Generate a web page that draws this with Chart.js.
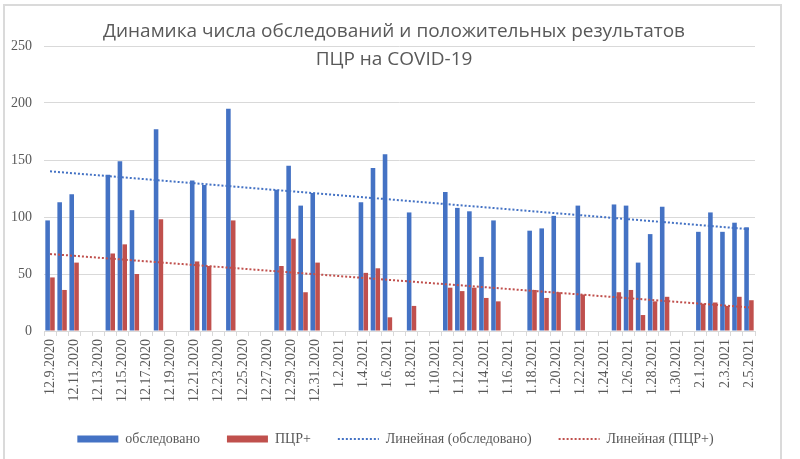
<!DOCTYPE html>
<html>
<head>
<meta charset="utf-8">
<script src="https://cdn.jsdelivr.net/npm/chart.js@4.4.1/dist/chart.umd.min.js"></script>
<style>
  html, body { margin: 0; padding: 0; background: #fff; }
  #wrap { position: relative; width: 800px; height: 459px; overflow: hidden; }
  #frame { position: absolute; left: 3px; top: 4px; width: 779px; height: 470px; border: 2px solid #dadada; box-sizing: border-box; pointer-events: none; }
  #title { position: absolute; left: 0; top: 16px; width: 788px; text-align: center; font-family: "Open Sans", sans-serif; font-size: 19px; line-height: 28px; color: #595959; pointer-events: none; }
</style>
</head>
<body>
<div id="wrap">
  <canvas id="chart" width="800" height="459"></canvas>
  <div id="frame"></div>
  <div id="title">Динамика числа обследований и положительных результатов<br>ПЦР на COVID-19</div>
</div>
<script>
// dates shown on the category axis (one per day, every other one labelled)
const dates = [
  "12.9.2020", "12.10.2020", "12.11.2020", "12.12.2020", "12.13.2020", "12.14.2020", "12.15.2020", "12.16.2020",
  "12.17.2020", "12.18.2020", "12.19.2020", "12.20.2020", "12.21.2020", "12.22.2020", "12.23.2020", "12.24.2020",
  "12.25.2020", "12.26.2020", "12.27.2020", "12.28.2020", "12.29.2020", "12.30.2020", "12.31.2020",
  "1.1.2021", "1.2.2021", "1.3.2021", "1.4.2021", "1.5.2021", "1.6.2021", "1.7.2021", "1.8.2021", "1.9.2021",
  "1.10.2021", "1.11.2021", "1.12.2021", "1.13.2021", "1.14.2021", "1.15.2021", "1.16.2021", "1.17.2021",
  "1.18.2021", "1.19.2021", "1.20.2021", "1.21.2021", "1.22.2021", "1.23.2021", "1.24.2021", "1.25.2021",
  "1.26.2021", "1.27.2021", "1.28.2021", "1.29.2021", "1.30.2021", "1.31.2021",
  "2.1.2021", "2.2.2021", "2.3.2021", "2.4.2021", "2.5.2021"
]

// обследовано
const tested = [
  97, 113, 120, null, null, 137, 149, 106,
  null, 177, null, null, 132, 128, null, 195,
  null, null, null, 124, 145, 110, 121,
  null, null, null, 113, 143, 155, null, 104, null,
  null, 122, 108, 105, 65, 97, null, null,
  88, 90, 101, null, 110, null, null, 111,
  110, 60, 85, 109, null, null,
  87, 104, 87, 95, 91
]

// ПЦР+
const positive = [
  47, 36, 60, null, null, 68, 76, 50,
  null, 98, null, null, 61, 57, null, 97,
  null, null, null, 57, 81, 34, 60,
  null, null, null, 51, 55, 12, null, 22, null,
  null, 38, 35, 38, 29, 26, null, null,
  36, 29, 34, null, 32, null, null, 34,
  36, 14, 26, 30, null, null,
  24, 25, 22, 30, 27
]

const yTicks = [0, 50, 100, 150, 200, 250]

const BLUE = "#4472c4"
const RED = "#c0504d"

// least squares trend over category index, like Excel's linear trendline
function linearTrend(values) {
  const pts = values.map((v, i) => [i, v]).filter(p => p[1] !== null)
  const n = pts.length
  let sx = 0, sy = 0, sxx = 0, sxy = 0
  pts.forEach(([x, y]) => { sx += x; sy += y; sxx += x * x; sxy += x * y })
  const b = (n * sxy - sx * sy) / (n * sxx - sx * sx)
  const a = (sy - b * sx) / n
  return values.map((_, i) => a + b * i)
}

// legend in the original sits a bit right of the plot centre
const legendShift = {
  id: "legendShift",
  afterLayout(chart) {
    chart.legend.left += 16
    chart.legend.right += 16
  }
}

const ctx = document.getElementById("chart")
new Chart(ctx, {
  data: {
    labels: dates,
    datasets: [
      { type: "bar", label: "обследовано", data: tested, backgroundColor: BLUE, borderWidth: 0, order: 2 },
      { type: "bar", label: "ПЦР+", data: positive, backgroundColor: RED, borderWidth: 0, order: 2 },
      {
        type: "line", label: "Линейная (обследовано)", data: linearTrend(tested),
        borderColor: BLUE, backgroundColor: BLUE, borderWidth: 2, borderDash: [2, 2],
        pointRadius: 0, fill: false, order: 1
      },
      {
        type: "line", label: "Линейная (ПЦР+)", data: linearTrend(positive),
        borderColor: RED, backgroundColor: RED, borderWidth: 2, borderDash: [2, 2],
        pointRadius: 0, fill: false, order: 1
      }
    ]
  },
  options: {
    responsive: false,
    animation: false,
    layout: { padding: { top: 46, left: 4, right: 45, bottom: 3 } },
    datasets: { bar: { categoryPercentage: 0.8, barPercentage: 0.95, grouped: true } },
    scales: {
      x: {
        offset: true,
        grid: { display: true, drawOnChartArea: false, tickLength: 5, color: "#d9d9d9", offset: true },
        border: { display: true, color: "#d9d9d9", width: 1 },
        ticks: {
          autoSkip: false,
          minRotation: 90, maxRotation: 90,
          color: "#595959",
          font: { family: "'Liberation Serif', serif", size: 14 },
          padding: 3,
          callback: function (val, i) { return i % 2 === 0 ? dates[i] : "" }
        },
        afterFit: s => { s.height = 74 }
      },
      y: {
        min: 0, max: 250,
        afterBuildTicks: s => { s.ticks = yTicks.map(v => ({ value: v })) },
        grid: { color: "#d9d9d9", drawTicks: false },
        border: { display: false },
        ticks: { color: "#595959", font: { family: "'Liberation Serif', serif", size: 14 }, padding: 12 },
        afterFit: s => { s.width = 40 }
      }
    },
    plugins: {
      legend: {
        position: "bottom",
        labels: {
          usePointStyle: true,
          pointStyleWidth: 41,
          boxHeight: 7,
          padding: 27,
          color: "#595959",
          font: { family: "'Liberation Serif', serif", size: 14 },
          sort: (a, b) => a.datasetIndex - b.datasetIndex,
          generateLabels: chart => {
            const items = Chart.defaults.plugins.legend.labels.generateLabels(chart)
            items.forEach(it => {
              if (it.datasetIndex < 2) {
                it.pointStyle = "rect"
                it.lineWidth = 0
              } else {
                it.pointStyle = "line"
                it.lineWidth = 2
                it.lineDash = [2, 2]
              }
            })
            return items
          }
        }
      },
      tooltip: { enabled: false }
    }
  },
  plugins: [legendShift]
})
</script>
</body>
</html>
